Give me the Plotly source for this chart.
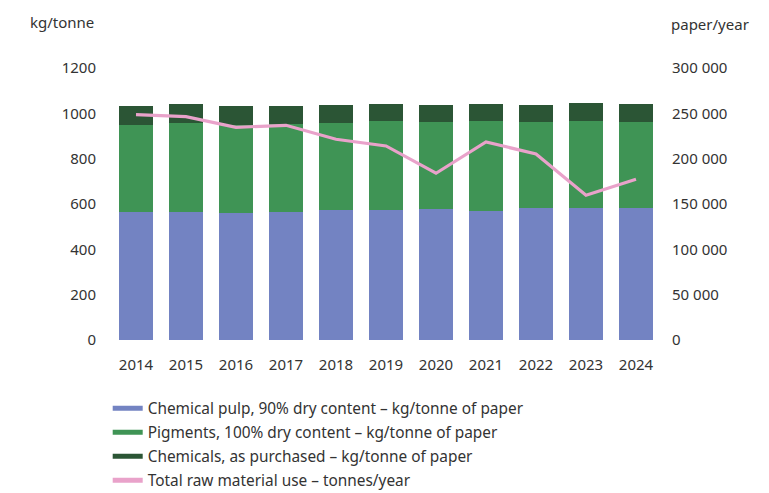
import plotly.graph_objects as go

# data
years = ["2014", "2015", "2016", "2017", "2018", "2019", "2020", "2021", "2022", "2023", "2024"]
pulp = [566, 566, 560, 565, 573, 573, 578, 569, 582, 582, 582]
pigments = [382, 391, 388, 388, 384, 393, 384, 397, 380, 384, 380]
chemicals = [84, 84, 84, 79, 80, 75, 75, 75, 75, 79, 79]
total_use = [248500, 246300, 234600, 236800, 221400, 214000, 183900, 218400, 205200, 159600, 177300]

names = [
    "Chemical pulp, 90% dry content – kg/tonne of paper",
    "Pigments, 100% dry content – kg/tonne of paper",
    "Chemicals, as purchased – kg/tonne of paper",
    "Total raw material use – tonnes/year",
]
colors = ["#7383C2", "#3F9455", "#2B5535", "#E9A2CA"]

FONT = "Noto Sans"
TXT = "#333333"

fig = go.Figure()

for vals, c in zip([pulp, pigments, chemicals], colors[:3]):
    fig.add_trace(go.Bar(x=years, y=vals, marker=dict(color=c, line=dict(width=0)),
                         showlegend=False, yaxis="y"))

fig.add_trace(go.Scatter(x=years, y=total_use, mode="lines", yaxis="y2",
                         line=dict(color=colors[3], width=3.2), showlegend=False))

# legend entries drawn as short thick lines
for n, c in zip(names, colors):
    fig.add_trace(go.Scatter(x=[None], y=[None], mode="lines", name=n,
                             line=dict(color=c, width=5), legendgroup=n))

fig.update_layout(
    width=769, height=493,
    margin=dict(l=111, r=108, t=68, b=153, autoexpand=False),
    barmode="stack", bargap=0.32,
    plot_bgcolor="white", paper_bgcolor="white",
    separators=", ",
    font=dict(family=FONT, size=14, color=TXT),
    xaxis=dict(type="category", showgrid=False, showline=False, ticks="",
               ticklabelstandoff=14, tickfont=dict(size=15, color=TXT)),
    yaxis=dict(range=[0, 1200], dtick=200, tickformat="d", showgrid=False,
               zeroline=False, showline=False, ticks="", ticklabelstandoff=14,
               tickfont=dict(size=15, color=TXT)),
    yaxis2=dict(range=[0, 300000], dtick=50000, tickformat=",d", overlaying="y",
                side="right", showgrid=False, zeroline=False, showline=False,
                ticks="", ticklabelstandoff=10, tickfont=dict(size=15, color=TXT)),
    legend=dict(x=-0.006, y=-0.19, xanchor="left", yanchor="top",
                font=dict(size=15.4, color=TXT), tracegroupgap=1, itemwidth=30),
    annotations=[
        dict(text="kg/tonne", xref="paper", yref="paper", x=-0.027, y=1.17,
             xanchor="right", yanchor="middle", showarrow=False, font=dict(size=15)),
        dict(text="paper/year", xref="paper", yref="paper", x=1.015, y=1.16,
             xanchor="left", yanchor="middle", showarrow=False, font=dict(size=15)),
    ],
)

fig.write_html("out.html", config={"displayModeBar": False},
               post_script="document.body.style.margin='0';")
